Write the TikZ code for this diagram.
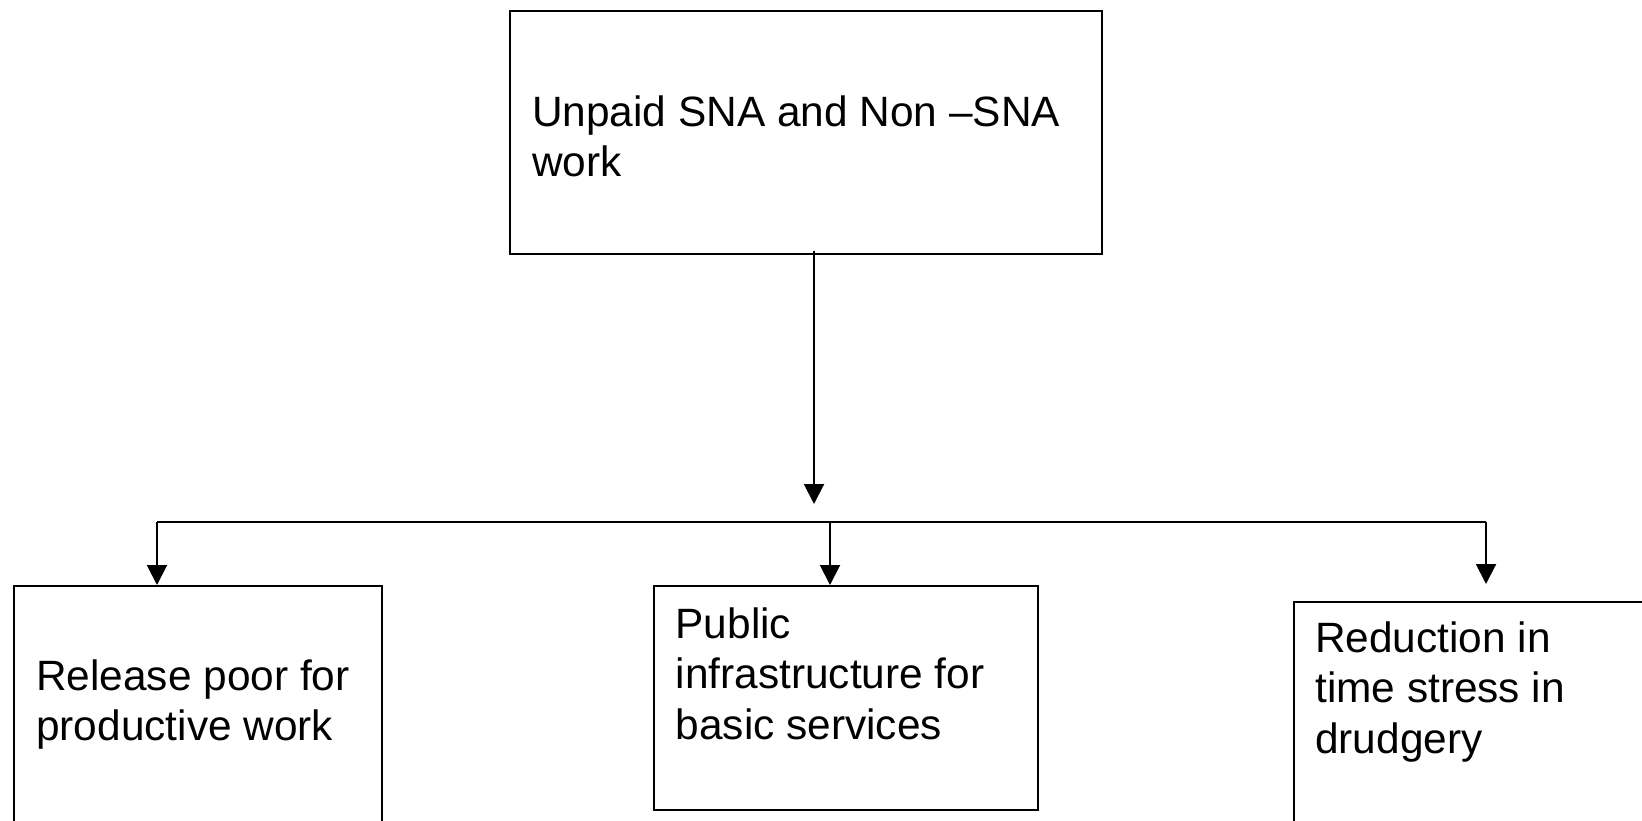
\documentclass[tikz,border=0pt]{standalone}
\usepackage{fontspec}
\setmainfont{Liberation Sans}
\usetikzlibrary{arrows.meta}
\tikzset{
  box/.style={draw=black, line width=2pt, inner sep=0pt, rectangle},
  label text/.style={anchor=base west, inner sep=0pt,
    font=\fontsize{42.4}{50.5}\selectfont},
  link/.style={draw=black, line width=2pt},
  arrowlink/.style={link, -{Triangle[width=20pt,length=20pt]}},
}
\begin{document}
\begin{tikzpicture}[x=1pt, y=-1pt]
  \useasboundingbox (0,0) rectangle (1642,820);
  \clip (0,0) rectangle (1642,820);

  % boxes
  \node[box, minimum width=592pt, minimum height=243pt] (top) at (806,132) {};
  \node[box, minimum width=368.5pt, minimum height=300pt] (left) at (197.75,736) {};
  \node[box, minimum width=384pt, minimum height=224pt] (mid) at (846,698) {};
  \node[box, minimum width=456pt, minimum height=298pt] (right) at (1522,751) {};

  % box texts
  \node[label text] (toptext) at (532,126)
    {\begin{tabular}[t]{@{}l@{}}Unpaid SNA and Non –SNA\\work\end{tabular}};
  \node[label text] (lefttext) at (36,690)
    {\begin{tabular}[t]{@{}l@{}}Release poor for\\productive work\end{tabular}};
  \node[label text] (midtext) at (675.5,638)
    {\begin{tabular}[t]{@{}l@{}}Public\\infrastructure for\\basic services\end{tabular}};
  \node[label text] (righttext) at (1315,652)
    {\begin{tabular}[t]{@{}l@{}}Reduction in\\time stress in\\drudgery\end{tabular}};

  % distribution bus
  \coordinate (bl) at (157,521.5);
  \coordinate (bt) at (814,521.5);
  \coordinate (bm) at (830,521.5);
  \coordinate (br) at (1486,521.5);

  \draw[arrowlink, shorten >=17.5pt, shorten <=-4pt] (top.south -| bt) -- (bt);
  \draw[link] (bl) -- (br);
  \draw[arrowlink] (bl) -- (bl |- left.north);
  \draw[arrowlink] (bm) -- (bm |- mid.north);
  \draw[arrowlink, shorten >=17pt] (br) -- (br |- right.north);
\end{tikzpicture}
\end{document}
